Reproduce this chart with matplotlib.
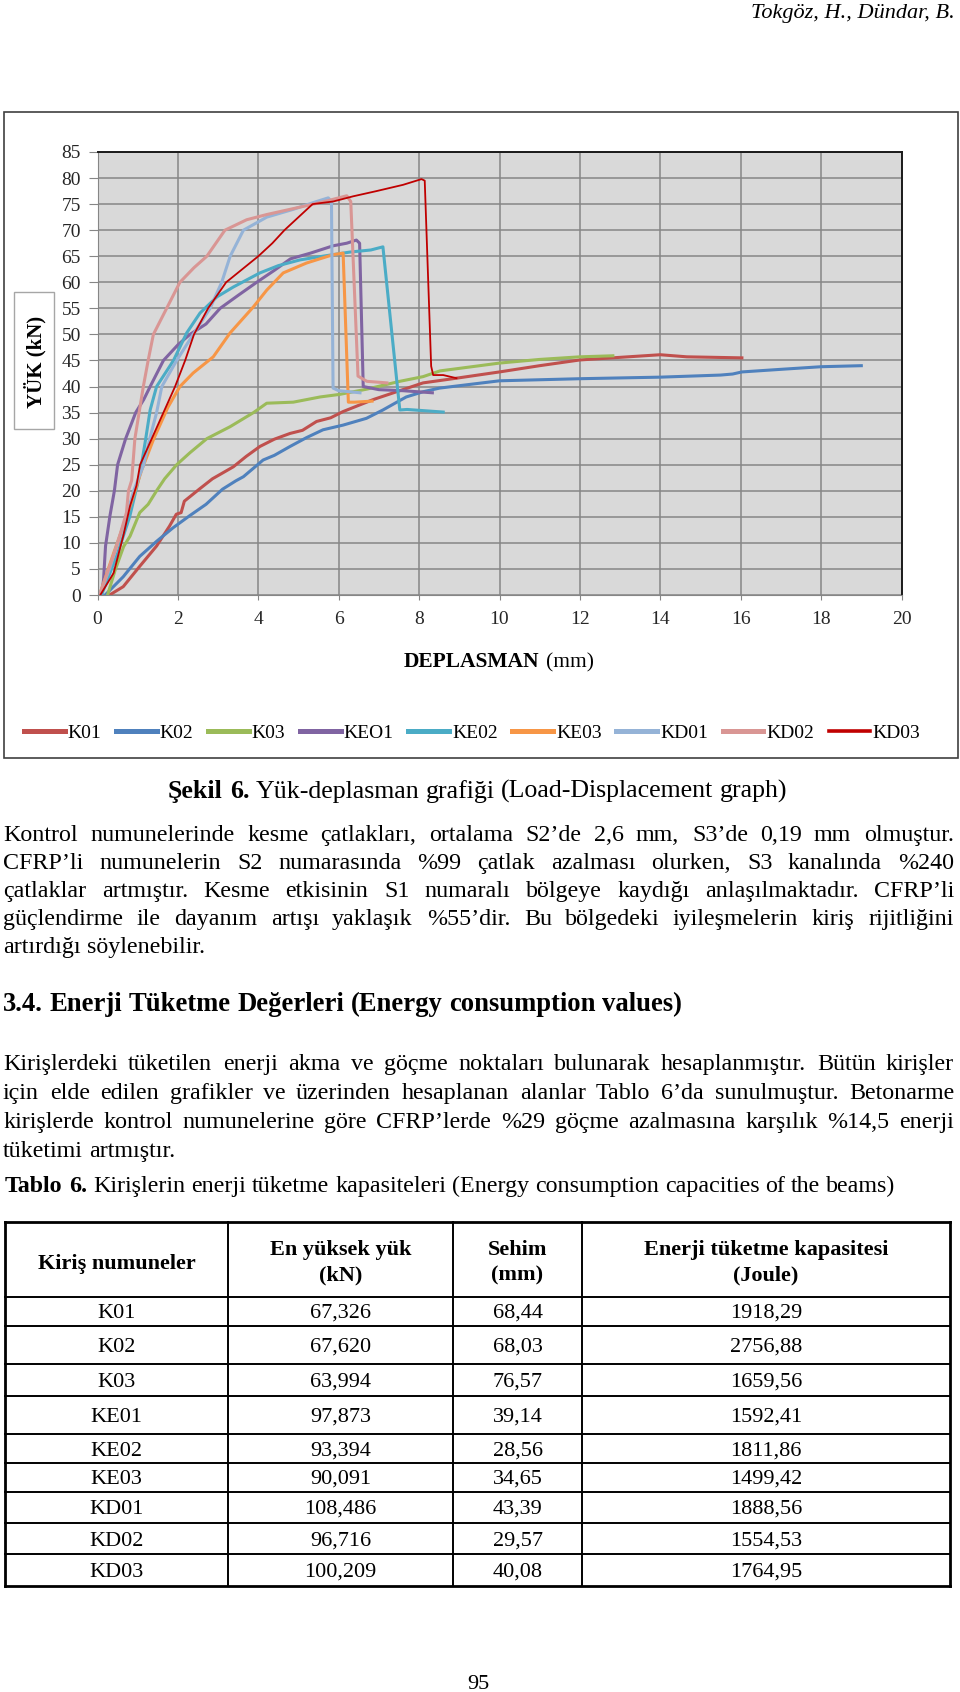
import matplotlib
matplotlib.use("Agg")
import matplotlib.pyplot as plt
from matplotlib.lines import Line2D
from matplotlib.patches import Rectangle

plt.rcParams['font.family'] = 'Liberation Serif'

# ---- data (displacement mm, load kN) ----
k01_x = [0.30, 0.64, 1.05, 1.47, 1.79, 1.96, 2.08, 2.16, 2.53, 2.86, 3.38, 3.70, 4.04, 4.40, 4.79, 5.10,
         5.45, 5.80, 6.11, 6.50, 6.86, 7.44, 8.10, 8.93, 10.0, 11.0, 12.0, 13.0, 14.0, 14.66, 16.03]
k01_y = [0.0, 1.6, 5.5, 9.4, 13.2, 15.5, 15.8, 18.0, 20.3, 22.3, 24.6, 26.6, 28.5, 29.9, 31.0, 31.6,
         33.3, 34.0, 35.2, 36.4, 37.5, 39.0, 40.7, 41.6, 42.8, 44.0, 45.1, 45.6, 46.1, 45.7, 45.5]
k02_x = [0.19, 0.64, 1.05, 1.47, 1.88, 2.29, 2.70, 3.11, 3.44, 3.63, 4.12, 4.40, 4.79, 5.20, 5.61, 6.11,
         6.69, 7.10, 7.40, 7.68, 8.10, 8.51, 10.0, 12.0, 14.0, 15.5, 15.8, 16.03, 17.0, 18.0, 19.0]
k02_y = [0.0, 3.5, 7.4, 10.3, 12.9, 15.2, 17.4, 20.3, 21.9, 22.7, 25.9, 26.8, 28.5, 30.2, 31.7, 32.6,
         33.9, 35.5, 36.8, 38.0, 39.0, 39.7, 41.1, 41.5, 41.8, 42.2, 42.4, 42.8, 43.3, 43.8, 44.0]
k03_x = [0.25, 0.44, 0.52, 0.65, 0.81, 1.05, 1.26, 1.47, 1.67, 1.97, 2.30, 2.72, 3.30, 3.88, 4.21, 4.87,
         5.54, 6.03, 6.70, 7.52, 8.10, 8.52, 9.51, 10.0, 11.0, 12.0, 12.82]
k03_y = [0.0, 4.8, 6.5, 9.3, 11.3, 15.8, 17.4, 20.0, 22.3, 25.0, 27.3, 30.0, 32.3, 35.0, 36.8, 37.0,
         38.0, 38.5, 39.5, 41.0, 41.9, 43.0, 44.0, 44.5, 45.2, 45.7, 45.9]
ke01_x = [0.10, 0.15, 0.20, 0.31, 0.42, 0.50, 0.70, 0.95, 1.15, 1.31, 1.64, 2.00, 2.30, 2.70, 3.05, 3.50,
          3.96, 4.40, 4.80, 5.30, 5.86, 6.20, 6.44, 6.52, 6.61, 7.00, 7.60, 8.33]
ke01_y = [0.0, 2.9, 9.4, 15.2, 20.0, 25.0, 30.0, 35.0, 37.5, 40.0, 45.0, 48.0, 50.0, 52.0, 55.0, 57.5,
          60.0, 62.3, 64.5, 65.6, 67.0, 67.5, 68.1, 67.5, 40.0, 39.4, 39.2, 38.8]
ke02_x = [0.10, 0.50, 0.80, 1.06, 1.20, 1.31, 1.47, 1.89, 2.22, 2.55, 2.97, 3.38, 4.04, 4.50, 5.04, 5.60,
          6.28, 6.80, 7.10, 7.52, 7.70, 8.60]
ke02_y = [0.0, 8.0, 15.0, 23.4, 30.0, 35.5, 40.0, 45.0, 50.3, 54.1, 57.2, 59.1, 61.8, 63.2, 64.3, 65.0,
          65.8, 66.2, 66.8, 35.5, 35.6, 35.1]
ke03_x = [0.05, 0.40, 0.81, 1.10, 1.39, 1.75, 2.05, 2.38, 2.88, 3.30, 3.88, 4.21, 4.62, 5.20, 5.86, 6.11,
          6.24, 6.40, 6.83]
ke03_y = [0.0, 8.0, 17.0, 24.0, 29.8, 36.0, 40.0, 42.6, 45.7, 50.3, 55.3, 58.5, 61.8, 63.7, 65.3, 65.6,
          37.0, 37.0, 37.2]
kd01_x = [0.05, 0.30, 0.50, 0.72, 0.90, 1.15, 1.30, 1.47, 1.60, 1.97, 2.38, 2.80, 3.09, 3.30, 3.63, 4.21,
          4.87, 5.45, 5.74, 5.82, 5.86, 6.00, 6.53]
kd01_y = [0.0, 5.0, 10.0, 15.0, 20.0, 25.0, 30.0, 35.0, 40.0, 45.0, 50.0, 55.0, 60.0, 65.0, 70.0, 72.5,
          74.0, 75.5, 76.2, 75.5, 39.7, 39.2, 38.8]
kd02_x = [0.05, 0.48, 0.72, 0.77, 0.85, 0.93, 1.14, 1.26, 1.39, 1.72, 2.05, 2.40, 2.72, 3.17, 3.71, 4.21,
          4.79, 5.37, 5.80, 6.20, 6.30, 6.48, 6.70, 7.20]
kd02_y = [0.0, 9.4, 15.8, 20.0, 22.0, 30.0, 40.0, 45.0, 50.0, 55.0, 60.0, 62.8, 65.0, 70.0, 72.0, 73.0,
          74.0, 75.0, 75.8, 76.6, 75.5, 42.0, 41.0, 40.7]
kd03_x = [0.07, 0.40, 0.64, 0.81, 0.97, 1.06, 1.35, 1.64, 1.93, 2.18, 2.40, 2.75, 3.20, 3.60, 4.00, 4.35,
          4.65, 5.00, 5.35, 5.86, 6.36, 6.94, 7.60, 8.06, 8.14, 8.30, 8.35, 8.60, 8.93]
kd03_y = [0.0, 4.2, 11.3, 17.1, 21.0, 25.0, 30.0, 35.0, 40.0, 45.0, 50.0, 55.0, 60.0, 62.5, 65.0, 67.5,
          70.0, 72.5, 75.0, 75.5, 76.5, 77.5, 78.7, 79.8, 79.5, 43.9, 42.2, 42.2, 41.6]

series_names = ['K01', 'K02', 'K03', 'KEO1', 'KE02', 'KE03', 'KD01', 'KD02', 'KD03']
series_x = [k01_x, k02_x, k03_x, ke01_x, ke02_x, ke03_x, kd01_x, kd02_x, kd03_x]
series_y = [k01_y, k02_y, k03_y, ke01_y, ke02_y, ke03_y, kd01_y, kd02_y, kd03_y]
colors = ['#C0504D', '#4F81BD', '#9BBB59', '#8064A2', '#4BACC6', '#F79646', '#95B3D7', '#D99694', '#C00000']

# ---- table 6 ----
tab_names = ['K01', 'K02', 'K03', 'KE01', 'KE02', 'KE03', 'KD01', 'KD02', 'KD03']
tab_peak = [67.326, 67.620, 63.994, 97.873, 93.394, 90.091, 108.486, 96.716, 100.209]
tab_sehim = [68.44, 68.03, 76.57, 39.14, 28.56, 34.65, 43.39, 29.57, 40.08]
tab_energy = [1918.29, 2756.88, 1659.56, 1592.41, 1811.86, 1499.42, 1888.56, 1554.53, 1764.95]

para1 = ["Kontrol numunelerinde kesme çatlakları, ortalama S2’de 2,6 mm, S3’de 0,19 mm olmuştur.",
         "CFRP’li numunelerin S2 numarasında %99 çatlak azalması olurken, S3 kanalında %240",
         "çatlaklar artmıştır. Kesme etkisinin S1 numaralı bölgeye kaydığı anlaşılmaktadır. CFRP’li",
         "güçlendirme ile dayanım artışı yaklaşık %55’dir. Bu bölgedeki iyileşmelerin kiriş rijitliğini",
         "artırdığı söylenebilir."]
para2 = ["Kirişlerdeki tüketilen enerji akma ve göçme noktaları bulunarak hesaplanmıştır. Bütün kirişler",
         "için elde edilen grafikler ve üzerinden hesaplanan alanlar Tablo 6’da sunulmuştur. Betonarme",
         "kirişlerde kontrol numunelerine göre CFRP’lerde %29 göçme azalmasına karşılık %14,5 enerji",
         "tüketimi artmıştır."]

W, H = 960, 1692
fig = plt.figure(figsize=(W / 100, H / 100), dpi=100)
page = fig.add_axes([0, 0, 1, 1], zorder=0)
page.set_xlim(0, W)
page.set_ylim(H, 0)
page.axis('off')
r = fig.canvas.get_renderer()

BODY = 17.3


def words_line(parts, x0, y, x1=None, size=BODY, align='left'):
    # parts: list of (text, weight); words placed one by one so lines can be justified
    ts, ws = [], []
    for s, wt in parts:
        t = page.text(0, y, s, fontsize=size, fontweight=wt, va='baseline', ha='left')
        ts.append(t)
        ws.append(t.get_window_extent(r).width)
    a = page.text(0, 0, 'n n', fontsize=size)
    b = page.text(0, 0, 'nn', fontsize=size)
    sp = a.get_window_extent(r).width - b.get_window_extent(r).width
    a.remove()
    b.remove()
    if x1 is not None and len(ts) > 1:
        gap = (x1 - x0 - sum(ws)) / (len(ts) - 1)
    else:
        gap = sp
    total = sum(ws) + gap * (len(ts) - 1)
    x = x0 - total / 2 if align == 'center' else x0
    for t, w in zip(ts, ws):
        t.set_x(round(x))
        x += w + gap


def split(s, wt='normal'):
    return [(w, wt) for w in s.split()]


# header
page.text(955, 18, 'Tokgöz, H., Dündar, B.', fontsize=16, style='italic', ha='right', va='baseline')

# chart frame
page.add_patch(Rectangle((4, 112), 954, 646, fill=False, ec='#404040', lw=1.2))
page.add_patch(Rectangle((14, 292), 40, 137, fc='white', ec='#A6A6A6', lw=1))
page.text(35, 362, 'YÜK (kN)', rotation=90, fontsize=15, fontweight='bold', ha='center', va='center')
words_line([('DEPLASMAN', 'bold'), ('(mm)', 'normal')], 499, 667, size=15.5, align='center')

ax = fig.add_axes([97.5 / W, 1 - 595 / H, 804 / W, 443 / H], zorder=2)
ax.set_facecolor('#D9D9D9')
for x, y, c, n in zip(series_x, series_y, colors, series_names):
    ax.plot(x, y, color=c, lw=1.3 if n == 'KD03' else 2.2, label=n, solid_joinstyle='round')
ax.set_xlim(0, 20)
ax.set_ylim(0, 85)
ax.set_xticks(range(0, 21, 2))
ax.set_yticks(range(0, 86, 5))
ax.grid(True, color='#868686', lw=1.1)
ax.set_axisbelow(True)
ax.tick_params(axis='y', length=6.5, pad=5.5, color='#868686', labelsize=14, labelcolor='#262626')
ax.tick_params(axis='x', length=3.6, pad=8, color='#868686', labelsize=14, labelcolor='#262626')
for s in ['left', 'bottom']:
    ax.spines[s].set_color('#868686')
for s in ['top', 'right']:
    ax.spines[s].set_color('#1a1a1a')
    ax.spines[s].set_linewidth(1.4)

handles = [Line2D([], [], color=c, lw=2.6 if n == 'KD03' else 3.6) for c, n in zip(colors, series_names)]
fig.legend(handles, series_names, loc='center', bbox_to_anchor=(472 / W, 1 - 733 / H), ncol=9,
           frameon=False, fontsize=14, handlelength=2.1, handletextpad=0.15, columnspacing=0.75)

# caption and body text
cap = [('Şekil', 'bold'), ('6.', 'bold')] + split('Yük-deplasman grafiği (Load-Displacement graph)')
words_line(cap, 478, 798, size=18.6, align='center')

L, R = 3, 954
for i, line in enumerate(para1):
    words_line(split(line), L, 841 + i * 28, R if i < len(para1) - 1 else None)
words_line(split('3.4. Enerji Tüketme Değerleri (Energy consumption values)', 'bold'), L, 1011, size=19.2)
for i, line in enumerate(para2):
    words_line(split(line), L, 1070 + i * 29, R if i < len(para2) - 1 else None)
words_line([('Tablo', 'bold'), ('6.', 'bold')] +
           split('Kirişlerin enerji tüketme kapasiteleri (Energy consumption capacities of the beams)'), 5, 1192)

# table
col_x = [5, 228, 453, 582, 950]
row_y = [1222, 1297, 1326, 1364, 1396, 1434, 1463, 1492, 1523, 1554, 1586]
for i, y in enumerate(row_y):
    page.plot([col_x[0], col_x[-1]], [y, y], color='black', lw=2.0 if i in (0, len(row_y) - 1) else 1.4)
for i, x in enumerate(col_x):
    page.plot([x, x], [row_y[0], row_y[-1]], color='black', lw=2.0 if i in (0, len(col_x) - 1) else 1.4)
centers = [(col_x[i] + col_x[i + 1]) / 2 for i in range(4)]
TS = 16
page.text(centers[0], 1269, 'Kiriş numuneler', fontsize=TS, fontweight='bold', ha='center', va='baseline')
head = [('En yüksek yük', '(kN)'), ('Sehim', '(mm)'), ('Enerji tüketme kapasitesi', '(Joule)')]
for c, (h1, h2) in zip(centers[1:], head):
    page.text(c, 1255, h1, fontsize=TS, fontweight='bold', ha='center', va='baseline')
    page.text(c, 1280, h2, fontsize=TS, fontweight='bold', ha='center', va='baseline')


def fmt(v, d):
    return f'{v:.{d}f}'.replace('.', ',')


for i in range(len(tab_names)):
    yb = round((row_y[i + 1] + row_y[i + 2]) / 2 + 7)
    vals = [tab_names[i], fmt(tab_peak[i], 3), fmt(tab_sehim[i], 2), fmt(tab_energy[i], 2)]
    for c, v in zip(centers, vals):
        page.text(c, yb, v, fontsize=TS, ha='center', va='baseline')

page.text(478, 1689, '95', fontsize=16, ha='center', va='baseline')

fig.savefig('out.png', dpi=100)
